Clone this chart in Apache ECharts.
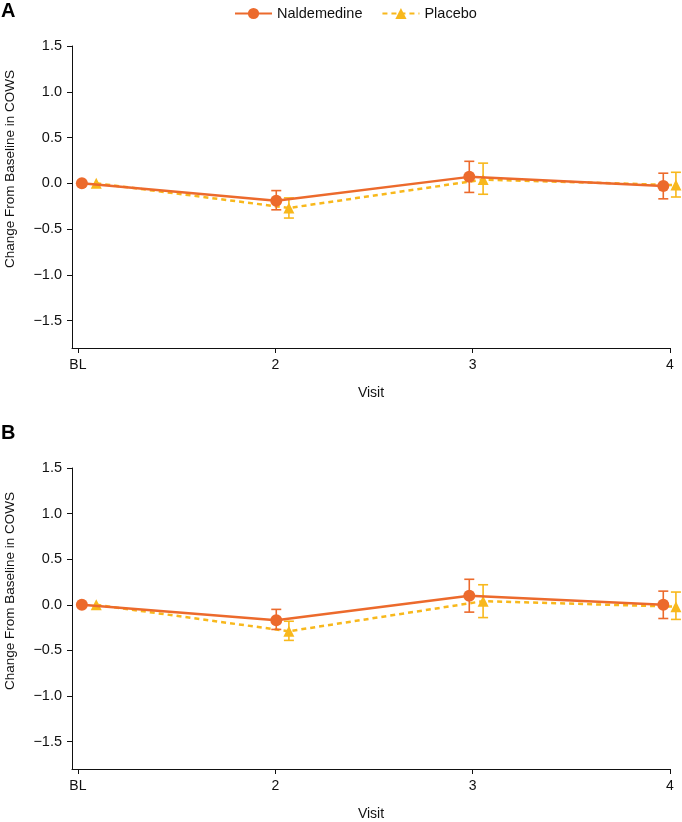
<!DOCTYPE html>
<html><head><meta charset="utf-8">
<script src="https://cdn.jsdelivr.net/npm/echarts@6/dist/echarts.min.js"></script>
<style>html,body{margin:0;padding:0;background:#fff}#c{width:682px;height:822px}</style>
</head><body><div id="c"></div>
<script>
// ---- data ----
const visitLabels = ['BL', '2', '3', '4'];
const visitTicks = [1, 2, 3, 4];
const yTicks = [-1.5, -1, -0.5, 0, 0.5, 1, 1.5];
// plotted x positions (markers are slightly dodged in the original)
const naldX = [1.02, 2.005, 2.983, 3.966];
const placX = [1.093, 2.069, 3.053, 4.03];

// Panel A
const naldA = [0, -0.19, 0.07, -0.03];
const naldALo = [null, -0.29, -0.10, -0.17];
const naldAHi = [null, -0.08, 0.24, 0.11];
const placA = [0, -0.27, 0.04, -0.02];
const placALo = [null, -0.38, -0.12, -0.15];
const placAHi = [null, -0.16, 0.22, 0.12];

// Panel B
const naldB = [0, -0.17, 0.10, 0.00];
const naldBLo = [null, -0.27, -0.08, -0.15];
const naldBHi = [null, -0.05, 0.28, 0.15];
const placB = [0, -0.29, 0.04, -0.02];
const placBLo = [null, -0.39, -0.14, -0.16];
const placBHi = [null, -0.18, 0.22, 0.14];

// ---- styling ----
const FONT = 'Liberation Sans, Arial, Helvetica, sans-serif';
const C_N = '#EC6a2c';
const C_P = '#F8B81C';

function pts(xs, ys) { return ys.map((v, i) => [xs[i], v]); }
function errs(xs, lo, hi) {
  const out = [];
  for (let i = 0; i < xs.length; i++) if (lo[i] != null) out.push([xs[i], lo[i], hi[i]]);
  return out;
}
function errRender(color) {
  return function (params, api) {
    const x = api.value(0), lo = api.value(1), hi = api.value(2);
    const p1 = api.coord([x, hi]), p2 = api.coord([x, lo]);
    const w = 5;
    const style = { stroke: color, lineWidth: 1.6, fill: null };
    return {
      type: 'group', children: [
        { type: 'line', shape: { x1: p1[0], y1: p1[1], x2: p2[0], y2: p2[1] }, style },
        { type: 'line', shape: { x1: p1[0] - w, y1: p1[1], x2: p1[0] + w, y2: p1[1] }, style },
        { type: 'line', shape: { x1: p2[0] - w, y1: p2[1], x2: p2[0] + w, y2: p2[1] }, style }
      ]
    };
  };
}
const fmtY = v => (v < 0 ? '\u2212' : '') + Math.abs(v).toFixed(1);

function xAxis(idx) {
  return {
    type: 'value', gridIndex: idx, min: 0.97, max: 4,
    name: 'Visit', nameLocation: 'middle', nameGap: 38,
    nameTextStyle: { fontFamily: FONT, fontSize: 14, color: '#111' },
    splitLine: { show: false },
    axisLine: { show: true, onZero: false, lineStyle: { color: '#111', width: 1 } },
    axisTick: { show: true, customValues: visitTicks, length: 5, lineStyle: { color: '#111' } },
    axisLabel: {
      customValues: visitTicks, margin: 10, fontFamily: FONT, fontSize: 14, color: '#111',
      formatter: v => visitLabels[visitTicks.indexOf(v)]
    }
  };
}
function yAxis(idx) {
  return {
    type: 'value', gridIndex: idx, min: -1.8, max: 1.5,
    splitLine: { show: false },
    axisLine: { show: true, onZero: false, lineStyle: { color: '#111', width: 1 } },
    axisTick: { show: true, customValues: yTicks, length: 5, lineStyle: { color: '#111' } },
    axisLabel: { customValues: yTicks, margin: 10, fontFamily: FONT, fontSize: 14.5, color: '#111', formatter: fmtY }
  };
}
function panelSeries(idx, nY, nLo, nHi, pY, pLo, pHi) {
  return [
    {
      type: 'custom', xAxisIndex: idx, yAxisIndex: idx, renderItem: errRender(C_P),
      encode: { x: 0, y: [1, 2] }, data: errs(placX, pLo, pHi), clip: false, z: 2, silent: true
    },
    {
      name: 'Placebo', type: 'line', xAxisIndex: idx, yAxisIndex: idx, data: pts(placX, pY),
      symbol: 'triangle', symbolSize: 11, clip: false, z: 3,
      lineStyle: { color: C_P, width: 2.5, type: [5, 4] }, itemStyle: { color: C_P }
    },
    {
      type: 'custom', xAxisIndex: idx, yAxisIndex: idx, renderItem: errRender(C_N),
      encode: { x: 0, y: [1, 2] }, data: errs(naldX, nLo, nHi), clip: false, z: 4, silent: true
    },
    {
      name: 'Naldemedine', type: 'line', xAxisIndex: idx, yAxisIndex: idx, data: pts(naldX, nY),
      symbol: 'circle', symbolSize: 12, clip: false, z: 5,
      lineStyle: { color: C_N, width: 2.5 }, itemStyle: { color: C_N }
    }
  ];
}

const chart = echarts.init(document.getElementById('c'), null, { renderer: 'canvas' });
chart.setOption({
  animation: false,
  textStyle: { fontFamily: FONT },
  legend: {
    data: ['Naldemedine', 'Placebo'], left: 229, top: 1, itemWidth: 37, itemHeight: 14, itemGap: 19,
    textStyle: { fontFamily: FONT, fontSize: 14.5, color: '#111' }
  },
  grid: [
    { left: 72, right: 12, top: 46, height: 302 },
    { left: 72, right: 12, top: 468, height: 302 }
  ],
  xAxis: [xAxis(0), xAxis(1)],
  yAxis: [yAxis(0), yAxis(1)],
  graphic: [
    { type: 'text', left: 1, top: 1, style: { text: 'A', font: 'bold 20px ' + FONT, fill: '#000' } },
    { type: 'text', left: 1, top: 423, style: { text: 'B', font: 'bold 20px ' + FONT, fill: '#000' } },
    { type: 'text', x: 10, y: 169, rotation: Math.PI / 2,
      style: { text: 'Change From Baseline in COWS', font: '13.5px ' + FONT, fill: '#111', align: 'center', verticalAlign: 'middle' } },
    { type: 'text', x: 10, y: 591, rotation: Math.PI / 2,
      style: { text: 'Change From Baseline in COWS', font: '13.5px ' + FONT, fill: '#111', align: 'center', verticalAlign: 'middle' } }
  ],
  series: [
    ...panelSeries(0, naldA, naldALo, naldAHi, placA, placALo, placAHi),
    ...panelSeries(1, naldB, naldBLo, naldBHi, placB, placBLo, placBHi)
  ]
});
</script>
</body></html>
